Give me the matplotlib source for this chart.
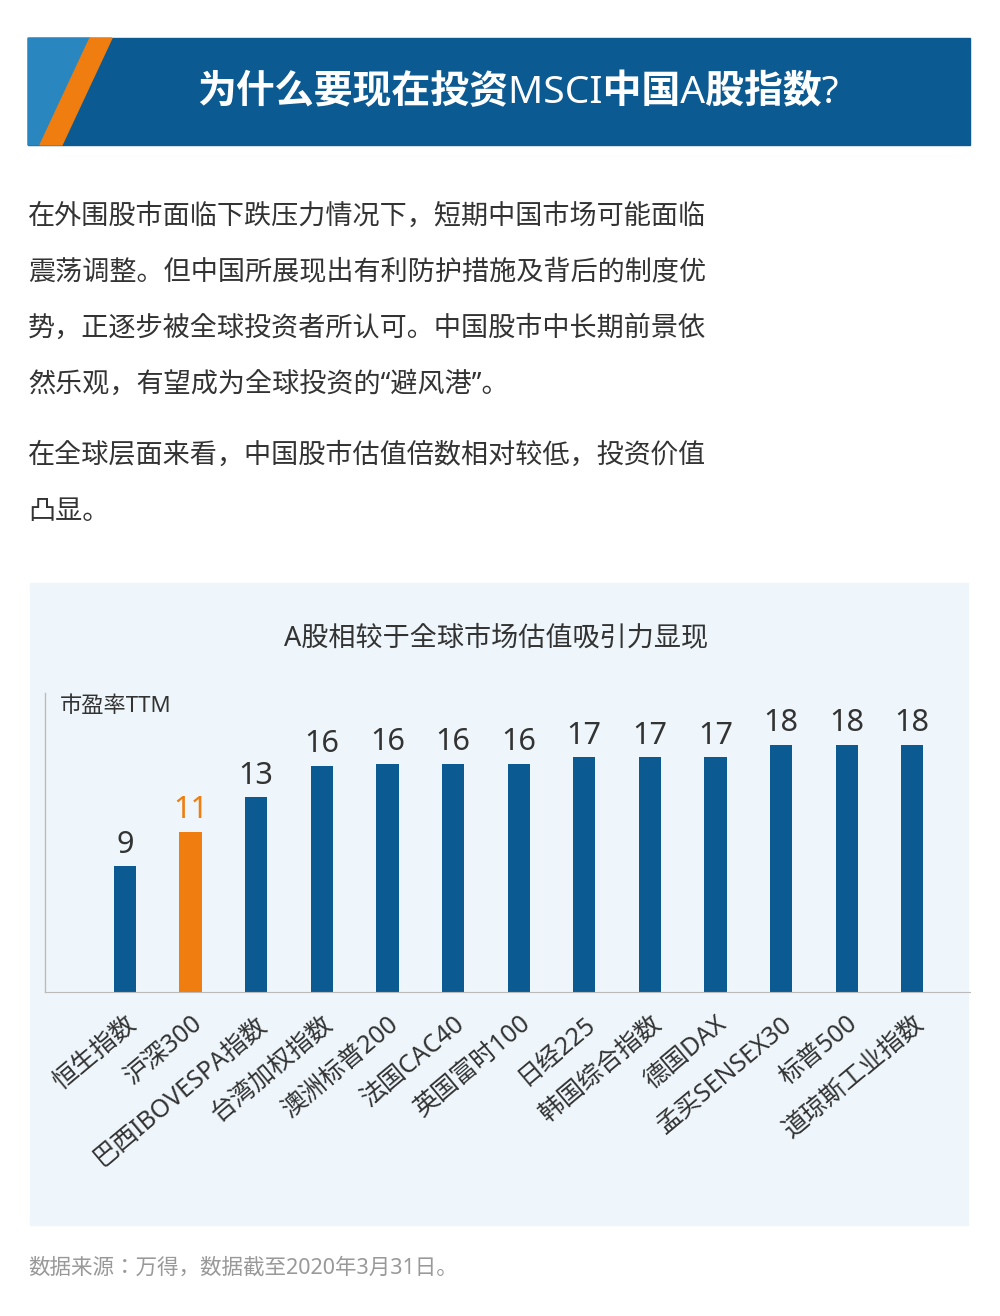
import matplotlib
matplotlib.use("Agg")
import matplotlib.pyplot as plt
from matplotlib.patches import Rectangle, Polygon
from matplotlib import font_manager

names = {f.name for f in font_manager.fontManager.ttflist}
cjk = [n for n in ["Noto Sans CJK SC", "Noto Sans CJK JP", "Noto Sans CJK TC", "Noto Sans CJK KR"] if n in names]
plt.rcParams["font.family"] = ["Noto Sans"] + cjk + ["DejaVu Sans"]

categories = ["恒生指数", "沪深300", "巴西IBOVESPA指数", "台湾加权指数", "澳洲标普200", "法国CAC40",
              "英国富时100", "日经225", "韩国综合指数", "德国DAX", "孟买SENSEX30", "标普500", "道琼斯工业指数"]
values = [9.1, 11.6, 14.1, 16.4, 16.5, 16.5, 16.5, 17.0, 17.0, 17.0, 17.9, 17.9, 17.9]
labels = ["9", "11", "13", "16", "16", "16", "16", "17", "17", "17", "18", "18", "18"]
highlight = "沪深300"

W, H = 1000, 1316
fig = plt.figure(figsize=(W/100, H/100), dpi=100)
bg = fig.add_axes([0, 0, 1, 1]); bg.set_xlim(0, W); bg.set_ylim(H, 0); bg.axis("off")

bg.add_patch(Rectangle((28, 38), 942, 107, color="#0b5a92"))
bg.add_patch(Polygon([(28, 38), (90, 38), (40, 145), (28, 145)], color="#2a86bf"))
bg.add_patch(Polygon([(90, 38), (112, 38), (62, 145), (40, 145)], color="#ef7d0f"))
bg.text(518, 93, "为什么要现在投资MSCI中国A股指数?", color="white", fontsize=28, weight="bold",
        ha="center", va="center")

body = ["在外围股市面临下跌压力情况下，短期中国市场可能面临",
        "震荡调整。但中国所展现出有利防护措施及背后的制度优",
        "势，正逐步被全球投资者所认可。中国股市中长期前景依",
        "然乐观，有望成为全球投资的“避风港”。"]
for i, t in enumerate(body):
    bg.text(28, 217 + i*56, t, fontsize=19.5, color="#333333", va="center")
bg.text(28, 456, "在全球层面来看，中国股市估值倍数相对较低，投资价值", fontsize=19.5, color="#333333", va="center")
bg.text(28, 512, "凸显。", fontsize=19.5, color="#333333", va="center")

bg.add_patch(Rectangle((30, 583), 938, 642, color="#eef6fb"))
bg.text(496, 638, "A股相较于全球市场估值吸引力显现", fontsize=19.5, color="#333333", ha="center", va="center")
bg.text(60, 706, "市盈率TTM", fontsize=16, color="#333333", va="center")
bg.plot([45, 45], [693, 992], color="#bbbbbb", lw=1)
bg.text(28, 1268, "数据来源：万得，数据截至2020年3月31日。", fontsize=15.5, color="#999999", va="center")

x0, x1, yb, yt = 45, 970, 992, 692
ax = fig.add_axes([x0/W, 1-yb/H, (x1-x0)/W, (yb-yt)/H])
ax.patch.set_alpha(0)
xs = list(range(len(categories)))
colors = ["#ef7d0f" if c == highlight else "#0b5a92" for c in categories]
ax.bar(xs, values, width=0.34, color=colors)
ax.set_xlim(-1.22, 12.88)
ax.set_ylim(0, 17.9 * 300 / 247)
for x, v, l, c in zip(xs, values, labels, colors):
    ax.text(x, v + 0.5, l, ha="center", va="bottom", fontsize=22,
            color="#ef7d0f" if c == "#ef7d0f" else "#333333",
            weight="bold" if c == "#ef7d0f" else "normal")
for s in ["top", "right", "left"]:
    ax.spines[s].set_visible(False)
ax.spines["bottom"].set_color("#bbbbbb")
ax.set_yticks([])
ax.set_xticks(xs)
ax.set_xticklabels(categories, rotation=40, ha="right", va="top", rotation_mode="anchor", fontsize=18, color="#333333")
ax.tick_params(axis="x", length=0, pad=14)
fig.savefig("out.png", dpi=100)
